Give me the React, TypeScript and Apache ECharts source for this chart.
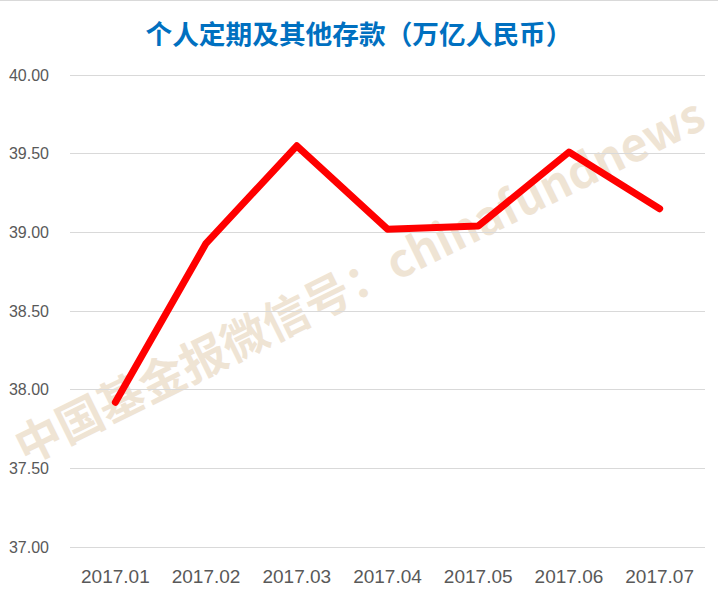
import React, { useEffect, useRef } from "react";
import * as echarts from "echarts";

const categories = ["2017.01", "2017.02", "2017.03", "2017.04", "2017.05", "2017.06", "2017.07"];
const deposits = [37.92, 38.93, 39.55, 39.02, 39.04, 39.51, 39.15];
const titleText = "个人定期及其他存款（万亿人民币）";
const watermarkText = "中国基金报微信号：chinafundnews";

export default function App() {
  const ref = useRef<HTMLDivElement>(null);
  useEffect(() => {
    if (!ref.current) return;
    const chart = echarts.init(ref.current, null, { renderer: "svg" });
    chart.setOption({
      animation: false,
      backgroundColor: "#ffffff",
      title: {
        text: titleText,
        left: "center",
        top: 14,
        textStyle: {
          color: "#0070C0",
          fontSize: 26.7,
          fontWeight: "bold",
          fontFamily: "Noto Sans CJK SC",
        },
      },
      grid: { left: 70, right: 13, top: 75, bottom: 46, containLabel: false },
      xAxis: {
        type: "category",
        data: categories,
        boundaryGap: true,
        axisLine: { show: false },
        axisTick: { show: false },
        axisLabel: {
          color: "#595959",
          fontSize: 19,
          margin: 20,
          fontFamily: "Liberation Sans",
        },
      },
      yAxis: {
        type: "value",
        min: 37,
        max: 40,
        interval: 0.5,
        axisLine: { show: false },
        axisTick: { show: false },
        splitLine: { lineStyle: { color: "#D9D9D9", width: 1 } },
        axisLabel: {
          color: "#595959",
          fontSize: 16,
          margin: 21,
          fontFamily: "Liberation Sans",
          formatter: (v: number) => v.toFixed(2),
        },
      },
      graphic: [
        {
          type: "line",
          shape: { x1: 0, y1: 0.5, x2: 718, y2: 0.5 },
          style: { stroke: "#D9D9D9", lineWidth: 1 },
          z: 100,
        },
        {
          type: "text",
          x: 358,
          y: 278,
          rotation: 0.46,
          z: 0,
          style: {
            text: watermarkText,
            fill: "#EFE4D4",
            fontSize: 46,
            fontWeight: "bold",
            fontFamily: "Noto Sans CJK SC",
            align: "center",
            verticalAlign: "middle",
          },
        },
      ],
      series: [
        {
          type: "line",
          data: deposits,
          symbol: "none",
          z: 5,
          lineStyle: { color: "#FF0000", width: 7, cap: "round", join: "round" },
        },
      ],
    });
    return () => chart.dispose();
  }, []);
  return (
    <div
      ref={ref}
      style={{ position: "absolute", left: 0, top: 0, width: 718, height: 593 }}
    />
  );
}
